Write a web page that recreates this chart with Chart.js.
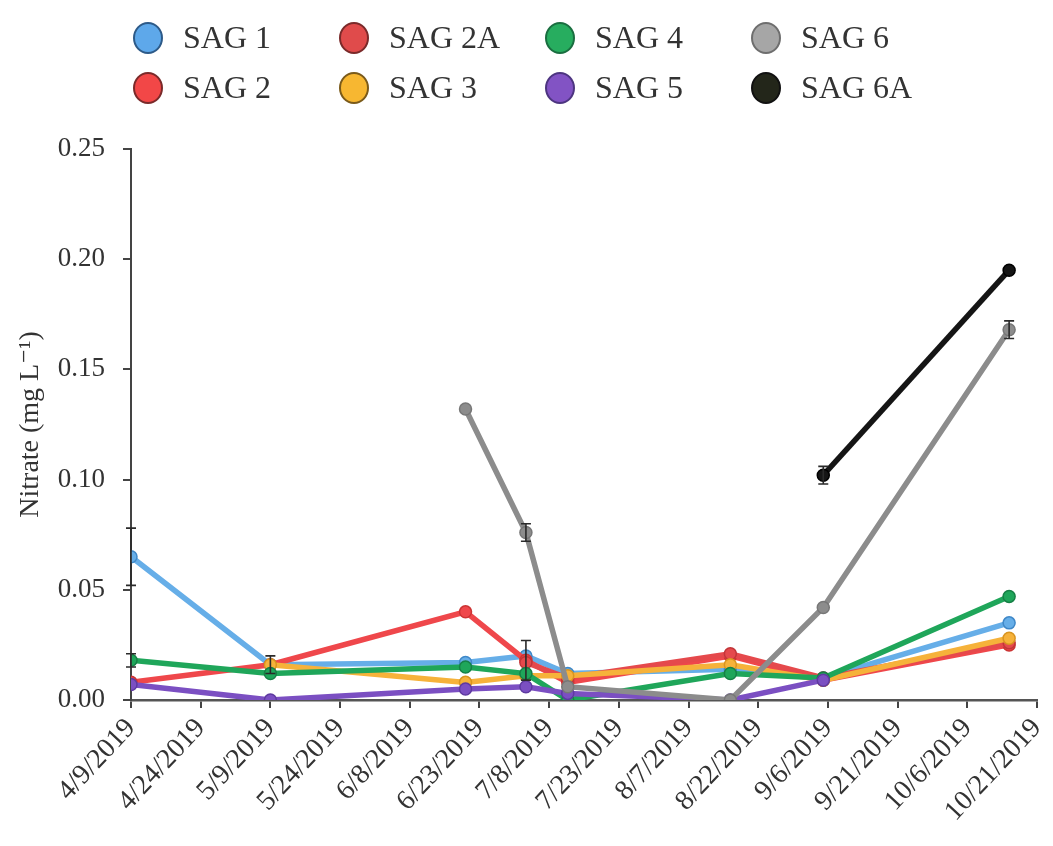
<!DOCTYPE html>
<html>
<head>
<meta charset="utf-8">
<script src="https://cdn.jsdelivr.net/npm/chart.js@4.4.1/dist/chart.umd.min.js"></script>
<style>
  html, body { margin: 0; padding: 0; background: #ffffff; }
  #wrap { width: 1053px; height: 846px; position: relative; }
</style>
</head>
<body>
<div id="wrap"><canvas id="c" width="1053" height="846"></canvas></div>
<script>
// ---- data ----
const sampleDates = ["2019-04-09", "2019-05-09", "2019-06-20", "2019-07-03", "2019-07-12", "2019-08-16", "2019-09-05", "2019-10-15"];
const axisStart = "2019-04-09";
const axisEnd = "2019-10-21";
const tickStepDays = 15;
const yTicks = [0, 0.05, 0.10, 0.15, 0.20, 0.25];

const sag1  = [0.065, 0.016, 0.017, 0.020, 0.012, 0.014, 0.010, 0.035];
const sag2  = [0.008, 0.016, 0.040, 0.018, 0.008, 0.020, 0.009, 0.025];
const sag2A = [null,  null,  null,  0.017, 0.010, 0.021, 0.010, 0.026];
const sag3  = [null,  0.016, 0.008, 0.011, 0.011, 0.016, 0.009, 0.028];
const sag4  = [0.018, 0.012, 0.015, 0.012, 0.000, 0.012, 0.010, 0.047];
const sag5  = [0.007, 0.000, 0.005, 0.006, 0.003, 0.000, 0.009, null];
const sag6  = [null,  null,  0.132, 0.076, 0.006, 0.000, 0.042, 0.168];
const sag6A = [null,  null,  null,  null,  null,  null,  0.102, 0.195];

const err1  = [0.013, 0, 0, 0, 0, 0, 0, 0];
const err2  = [0, 0, 0, 0.009, 0, 0, 0, 0];
const err3  = [0, 0.004, 0, 0, 0, 0, 0, 0];
const err4  = [0.003, 0, 0, 0, 0, 0, 0, 0];
const err6  = [0, 0, 0, 0.004, 0, 0, 0, 0.004];
const err6A = [0, 0, 0, 0, 0, 0, 0.004, 0];

// ---- helpers ----
const DAY = 86400000;
function toDate(s) { const p = s.split("-").map(Number); return Date.UTC(p[0], p[1] - 1, p[2]); }
const t0 = toDate(axisStart);
function dayOf(s) { return Math.round((toDate(s) - t0) / DAY); }
function fmtDay(d) {
  const dt = new Date(t0 + d * DAY);
  return (dt.getUTCMonth() + 1) + "/" + dt.getUTCDate() + "/" + dt.getUTCFullYear();
}
function pts(vals, errs) {
  return sampleDates.map((s, i) => ({ x: dayOf(s), y: vals[i], e: errs ? errs[i] : 0 }));
}

const FONT = "'Liberation Serif', 'DejaVu Serif', serif";
const TEXT = "#333333";

function ds(label, vals, errs, color, edge, legendColor, legendEdge) {
  return {
    label, data: pts(vals, errs),
    borderColor: color, backgroundColor: color,
    pointBackgroundColor: color, pointBorderColor: edge,
    borderWidth: 5.5, pointRadius: 6, pointBorderWidth: 1.5,
    spanGaps: false, tension: 0,
    legendColor: legendColor || color, legendEdge: legendEdge || edge
  };
}

// drawing order: first dataset on top
const datasets = [
  ds("SAG 6A", sag6A, err6A, "#151515", "#000000", "#23261a", "#111"),
  ds("SAG 6",  sag6,  err6,  "#8c8c8c", "#777777", "#a6a6a6", "#6e6e6e"),
  ds("SAG 5",  sag5,  null,  "#7b4fc2", "#5e3aa0", "#8253c4", "#4d3580"),
  ds("SAG 4",  sag4,  err4,  "#1fa65a", "#168046", "#27ad5f", "#1a6e40"),
  ds("SAG 3",  sag3,  err3,  "#f6b23a", "#d99520", "#f7b731", "#7a5a1a"),
  ds("SAG 2A", sag2A, null,  "#e5494c", "#c23538", "#e04b4b", "#7a2a2a"),
  ds("SAG 2",  sag2,  err2,  "#ef474b", "#cc3434", "#f24747", "#7a2a2a"),
  ds("SAG 1",  sag1,  err1,  "#66aee8", "#3f88c8", "#5ea8ea", "#2d5a88"),
];

const legendOrder = [["SAG 1", "SAG 2A", "SAG 4", "SAG 6"], ["SAG 2", "SAG 3", "SAG 5", "SAG 6A"]];

const errorBarPlugin = {
  id: "errorBars",
  afterDatasetsDraw(chart) {
    const ctx = chart.ctx, xs = chart.scales.x, ys = chart.scales.y;
    ctx.save();
    ctx.strokeStyle = "#2a2a2a";
    ctx.lineWidth = 1.6;
    chart.data.datasets.forEach(d => {
      d.data.forEach(p => {
        if (p.y == null || !p.e) return;
        const px = xs.getPixelForValue(p.x);
        const top = ys.getPixelForValue(p.y + p.e);
        const bot = ys.getPixelForValue(p.y - p.e);
        ctx.beginPath();
        ctx.moveTo(px, top); ctx.lineTo(px, bot);
        ctx.moveTo(px - 5, top); ctx.lineTo(px + 5, top);
        ctx.moveTo(px - 5, bot); ctx.lineTo(px + 5, bot);
        ctx.stroke();
      });
    });
    ctx.restore();
  }
};

const legendPlugin = {
  id: "gridLegend",
  afterDraw(chart) {
    const ctx = chart.ctx;
    const startX = 148, colGap = 206, startY = 38, rowGap = 50, r = 14;
    ctx.save();
    ctx.font = "32px " + FONT;
    ctx.textBaseline = "middle";
    ctx.textAlign = "left";
    legendOrder.forEach((row, ri) => {
      row.forEach((name, ci) => {
        const d = chart.data.datasets.find(q => q.label === name);
        const cx = startX + ci * colGap, cy = startY + ri * rowGap;
        ctx.beginPath();
        ctx.ellipse(cx, cy, r, r + 1, 0, 0, Math.PI * 2);
        ctx.fillStyle = d.legendColor;
        ctx.fill();
        ctx.lineWidth = 2;
        ctx.strokeStyle = d.legendEdge;
        ctx.stroke();
        ctx.fillStyle = TEXT;
        ctx.fillText(name, cx + 35, cy + 2);
      });
    });
    ctx.restore();
  }
};

const maxDay = dayOf(axisEnd);

new Chart(document.getElementById("c"), {
  type: "line",
  data: { datasets },
  options: {
    responsive: false,
    animation: false,
    layout: { padding: { top: 149, right: 16, left: 14, bottom: 6 } },
    plugins: {
      legend: { display: false },
      tooltip: { enabled: false },
    },
    scales: {
      x: {
        type: "linear",
        min: 0, max: maxDay,
        afterBuildTicks(scale) {
          const t = [];
          for (let d = 0; d <= maxDay; d += tickStepDays) t.push({ value: d });
          scale.ticks = t;
        },
        afterFit(scale) {
          scale.height = 846 - 6 - 700;
          scale.paddingRight = 0;
          scale.paddingLeft = 0;
        },
        ticks: {
          callback: v => fmtDay(v),
          minRotation: 47, maxRotation: 47,
          color: TEXT, font: { family: FONT, size: 28 },
          padding: 4, autoSkip: false
        },
        grid: { display: true, drawOnChartArea: false, drawTicks: true, tickLength: 8, color: "#444", lineWidth: 2 },
        border: { display: true, color: "#555", width: 2.5 }
      },
      y: {
        min: 0, max: 0.25,
        afterBuildTicks(scale) { scale.ticks = yTicks.map(v => ({ value: v })); },
        afterFit(scale) { scale.width = 131 - 14; },
        ticks: {
          callback: v => v.toFixed(2),
          color: TEXT, font: { family: FONT, size: 27 }, padding: 18
        },
        title: { display: true, text: "Nitrate (mg L⁻¹)", color: TEXT, font: { family: FONT, size: 28 }, padding: 0 },
        grid: { display: true, drawOnChartArea: false, drawTicks: true, tickLength: 8, color: "#444", lineWidth: 2 },
        border: { display: true, color: "#444", width: 2 }
      }
    }
  },
  plugins: [errorBarPlugin, legendPlugin]
});
</script>
</body>
</html>
